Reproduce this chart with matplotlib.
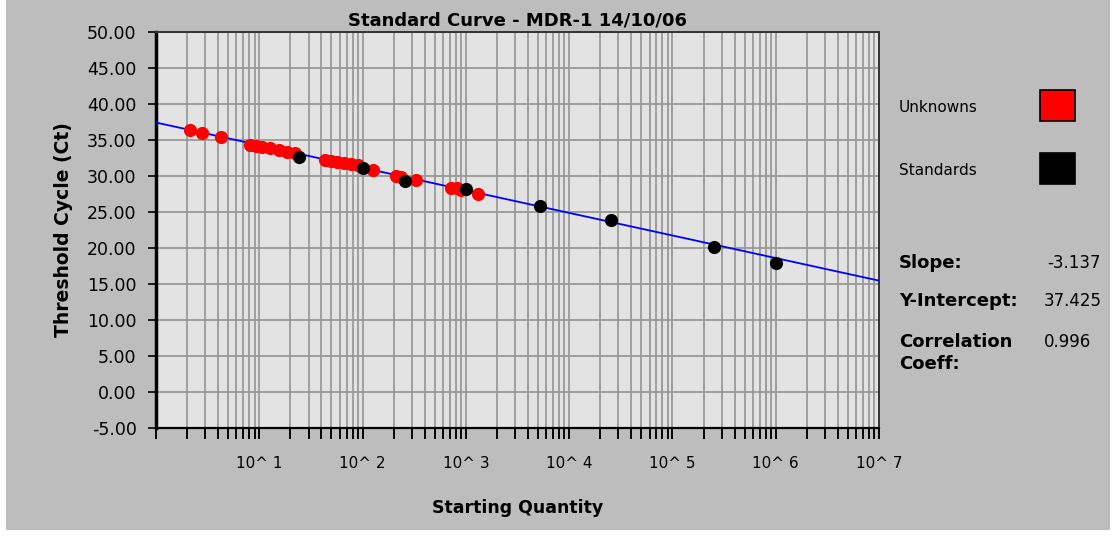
import numpy as np
import matplotlib
matplotlib.use('Agg')  # no GUI
import matplotlib.pyplot as plt
from matplotlib.patches import Rectangle
from matplotlib.ticker import FixedLocator, FixedFormatter, NullFormatter

# ── Data ──
unk_qty = [2.13, 2.79, 4.26, 8.1, 9.3, 10.6, 12.7, 15.5, 18.5, 22.2,
           43.3, 49.4, 56.5, 66.0, 77.0, 90.0, 126.0, 210.0, 235.0, 329.0,
           718.0, 820.0, 897.0, 1310.0]
unk_ct = [36.35, 35.93, 35.38, 34.26, 34.12, 33.98, 33.84, 33.57, 33.29, 33.15,
          32.17, 32.03, 31.89, 31.75, 31.60, 31.50, 30.80, 29.94, 29.80, 29.40,
          28.27, 28.27, 28.00, 27.44]

std_qty = [24.2, 101.0, 257.0, 1000.0, 5200.0, 25400.0, 250000.0, 1000000.0]
std_ct = [32.60, 31.06, 29.25, 28.13, 25.77, 23.82, 20.20, 17.97]

slope = -3.137
intercept = 37.425
corr = 0.996

x_range = [1.0, 1e7]
y_ticks = [-5, 0, 5, 10, 15, 20, 25, 30, 35, 40, 45, 50]
x_major = [10.0 ** k for k in range(0, 8)]
x_labels = [""] + [f"10^ {k}" for k in range(1, 8)]

W, H = 1117, 536
BG = "#bdbdbd"


def fx(px):
    return px / W


def fy(py):
    return 1 - py / H


fig = plt.figure(figsize=(W / 100, H / 100), dpi=100)
fig.patch.set_facecolor("white")
fig.patches.append(Rectangle((fx(6), fy(530)), fx(1110) - fx(6), 1 - fy(530),
                             transform=fig.transFigure, facecolor=BG,
                             edgecolor="none", zorder=-10))

ax = fig.add_axes([fx(156), fy(428), fx(879) - fx(156), fy(32) - fy(428)])
ax.set_facecolor("#e3e3e3")
ax.set_xscale("log")
ax.set_xlim(x_range)
ax.set_ylim(-5, 50)

# grid
ax.xaxis.set_major_locator(FixedLocator(x_major))
ax.xaxis.set_major_formatter(FixedFormatter(x_labels))
ax.xaxis.set_minor_locator(FixedLocator(
    [m * 10.0 ** k for k in range(0, 7) for m in range(2, 10)]))
ax.xaxis.set_minor_formatter(NullFormatter())
ax.set_yticks(y_ticks)
ax.set_yticklabels([f"{v:.2f}" for v in y_ticks])
ax.grid(True, which="both", axis="x", color="#999999", lw=1.3)
ax.grid(True, which="major", axis="y", color="#999999", lw=1.3)
ax.set_axisbelow(True)

# fitted line + points
xf = np.array(x_range)
ax.plot(xf, intercept + slope * np.log10(xf), color="#0000ff", lw=1.3, zorder=3)
ax.scatter(unk_qty, unk_ct, s=90, color="#ff0000", zorder=4, linewidths=0)
ax.scatter(std_qty, std_ct, s=90, color="black", zorder=5, linewidths=0)

# spines / ticks
ax.spines["left"].set_linewidth(2.5)
ax.spines["bottom"].set_linewidth(1.6)
for s in ("top", "right"):
    ax.spines[s].set_linewidth(1.4)
    ax.spines[s].set_color("#333333")
ax.tick_params(axis="y", which="major", direction="out", length=6, width=1.2,
               pad=8, labelsize=12.5)
ax.tick_params(axis="x", which="both", direction="out", length=8, width=1.4,
               pad=12, labelsize=11)

ax.set_title("Standard Curve - MDR-1 14/10/06", fontsize=13,
             fontweight="bold", pad=5)
ax.set_ylabel("Threshold Cycle (Ct)", fontsize=13.5, fontweight="bold",
              labelpad=10)
ax.set_xlabel("Starting Quantity", fontsize=12.5, fontweight="bold",
              labelpad=20)

# legend boxes
fig.text(fx(899), fy(107), "Unknowns", fontsize=11, va="center")
fig.text(fx(899), fy(170), "Standards", fontsize=11, va="center")
fig.patches.append(Rectangle((fx(1040), fy(121)), fx(35), 31 / H,
                             transform=fig.transFigure, facecolor="#ff0000",
                             edgecolor="black", lw=1.2))
fig.patches.append(Rectangle((fx(1040), fy(184)), fx(35), 31 / H,
                             transform=fig.transFigure, facecolor="black",
                             edgecolor="black", lw=1.2))

# regression stats
bold = dict(fontsize=13, fontweight="bold", va="center")
fig.text(fx(899), fy(263), "Slope:", **bold)
fig.text(fx(1101), fy(263), f"{slope:.3f}", fontsize=12, va="center", ha="right")
fig.text(fx(899), fy(301), "Y-Intercept:", **bold)
fig.text(fx(1044), fy(301), f"{intercept:.3f}", fontsize=12, va="center")
fig.text(fx(899), fy(342), "Correlation", **bold)
fig.text(fx(899), fy(364), "Coeff:", **bold)
fig.text(fx(1044), fy(342), f"{corr:.3f}", fontsize=12, va="center")

plt.savefig("out.png", dpi=100, facecolor=fig.get_facecolor())
